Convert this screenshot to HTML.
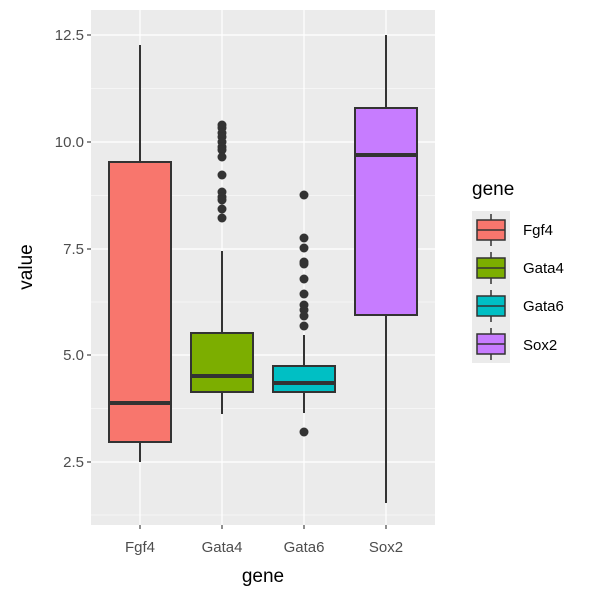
<!DOCTYPE html><html><head><style>body{margin:0;background:#fff}svg{display:block;font-family:"Liberation Sans",sans-serif}</style></head><body>
<svg width="600" height="600" viewBox="0 0 600 600">
<rect x="91" y="10" width="344" height="515" fill="#ebebeb"/>
<g stroke="#fff" stroke-width="0.6"><line x1="91" x2="435" y1="88.5" y2="88.5"/><line x1="91" x2="435" y1="195.5" y2="195.5"/><line x1="91" x2="435" y1="302" y2="302"/><line x1="91" x2="435" y1="408.5" y2="408.5"/><line x1="91" x2="435" y1="515" y2="515"/></g>
<g stroke="#fff" stroke-width="1.2"><line x1="91" x2="435" y1="35" y2="35"/><line x1="91" x2="435" y1="142" y2="142"/><line x1="91" x2="435" y1="249" y2="249"/><line x1="91" x2="435" y1="355" y2="355"/><line x1="91" x2="435" y1="462" y2="462"/>
<line x1="140" x2="140" y1="10" y2="525"/><line x1="222" x2="222" y1="10" y2="525"/><line x1="304" x2="304" y1="10" y2="525"/><line x1="386" x2="386" y1="10" y2="525"/></g>
<g stroke="#333" stroke-width="2">
<line x1="140" x2="140" y1="45" y2="462"/><rect x="109" y="162" width="62" height="280" fill="#f8766d"/><line x1="109" x2="171" y1="403" y2="403" stroke-width="4"/>
<line x1="222" x2="222" y1="251" y2="414"/><rect x="191" y="333" width="62" height="59" fill="#7cae00"/><line x1="191" x2="253" y1="376" y2="376" stroke-width="4"/>
<line x1="304" x2="304" y1="335" y2="413"/><rect x="273" y="366" width="62" height="26" fill="#00bfc4"/><line x1="273" x2="335" y1="383" y2="383" stroke-width="4"/>
<line x1="386" x2="386" y1="35" y2="503"/><rect x="355" y="108" width="62" height="207" fill="#c77cff"/><line x1="355" x2="417" y1="155" y2="155" stroke-width="4"/>
</g>
<g fill="#333">
<circle cx="222" cy="125" r="4.5"/><circle cx="222" cy="128" r="4.5"/><circle cx="222" cy="133" r="4.5"/><circle cx="222" cy="137" r="4.5"/><circle cx="222" cy="142" r="4.5"/><circle cx="222" cy="147" r="4.5"/><circle cx="222" cy="150" r="4.5"/><circle cx="222" cy="157" r="4.5"/><circle cx="222" cy="175" r="4.5"/><circle cx="222" cy="192" r="4.5"/><circle cx="222" cy="197" r="4.5"/><circle cx="222" cy="200" r="4.5"/><circle cx="222" cy="209" r="4.5"/><circle cx="222" cy="218" r="4.5"/>
<circle cx="304" cy="195" r="4.5"/><circle cx="304" cy="238" r="4.5"/><circle cx="304" cy="248" r="4.5"/><circle cx="304" cy="262" r="4.5"/><circle cx="304" cy="264" r="4.5"/><circle cx="304" cy="279" r="4.5"/><circle cx="304" cy="294" r="4.5"/><circle cx="304" cy="305" r="4.5"/><circle cx="304" cy="310" r="4.5"/><circle cx="304" cy="316" r="4.5"/><circle cx="304" cy="326" r="4.5"/><circle cx="304" cy="432" r="4.5"/>
</g>
<g stroke="#333" stroke-width="1.1"><line x1="87" x2="91" y1="35" y2="35"/><line x1="87" x2="91" y1="142" y2="142"/><line x1="87" x2="91" y1="249" y2="249"/><line x1="87" x2="91" y1="355" y2="355"/><line x1="87" x2="91" y1="462" y2="462"/>
<line x1="140" x2="140" y1="525" y2="529"/><line x1="222" x2="222" y1="525" y2="529"/><line x1="304" x2="304" y1="525" y2="529"/><line x1="386" x2="386" y1="525" y2="529"/></g>
<g fill="#4d4d4d" font-size="15" text-anchor="end"><text x="84" y="40">12.5</text><text x="84" y="147">10.0</text><text x="84" y="254">7.5</text><text x="84" y="360">5.0</text><text x="84" y="467">2.5</text></g>
<g fill="#4d4d4d" font-size="15" text-anchor="middle"><text x="140" y="552">Fgf4</text><text x="222" y="552">Gata4</text><text x="304" y="552">Gata6</text><text x="386" y="552">Sox2</text></g>
<text x="263" y="582" font-size="19" text-anchor="middle">gene</text>
<text transform="translate(32,267) rotate(-90)" font-size="19" text-anchor="middle">value</text>
<text x="472" y="195" font-size="19">gene</text>
<rect x="472" y="211" width="38" height="152" fill="#ebebeb"/>
<g stroke="#333" stroke-width="1.5">
<line x1="491" x2="491" y1="214" y2="246"/><rect x="477" y="220" width="28" height="20" fill="#f8766d"/><line x1="477" x2="505" y1="230" y2="230"/>
<line x1="491" x2="491" y1="252" y2="284"/><rect x="477" y="258" width="28" height="20" fill="#7cae00"/><line x1="477" x2="505" y1="268" y2="268"/>
<line x1="491" x2="491" y1="290" y2="322"/><rect x="477" y="296" width="28" height="20" fill="#00bfc4"/><line x1="477" x2="505" y1="306" y2="306"/>
<line x1="491" x2="491" y1="328" y2="360"/><rect x="477" y="334" width="28" height="20" fill="#c77cff"/><line x1="477" x2="505" y1="344" y2="344"/>
</g>
<g font-size="15"><text x="523" y="235">Fgf4</text><text x="523" y="273">Gata4</text><text x="523" y="311">Gata6</text><text x="523" y="350">Sox2</text></g>
</svg></body></html>
